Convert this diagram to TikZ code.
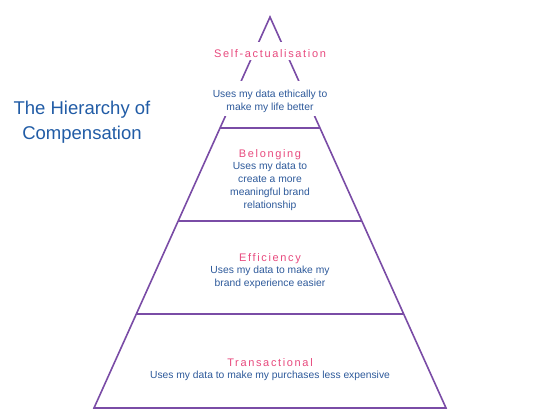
\documentclass[tikz,border=0pt]{standalone}
\usepackage{fontspec}
\setmainfont{Liberation Sans}
\newfontfamily\headfont[LetterSpace=15]{Liberation Sans}
\usetikzlibrary{calc}
\definecolor{pyrline}{RGB}{122,76,166}
\definecolor{headpink}{RGB}{232,74,126}
\definecolor{bodyblue}{RGB}{46,90,155}
\definecolor{titleblue}{RGB}{33,92,166}
\begin{document}
\begin{tikzpicture}[x=1pt,y=-1pt,
  edge/.style={draw=pyrline,line width=1.6pt,line join=miter},
  headtxt/.style={text=headpink,font=\headfont\fontsize{11}{13}\selectfont,inner sep=0pt},
  bodytxt/.style={text=bodyblue,font=\fontsize{10.3}{13}\selectfont,align=center,inner sep=0pt},
  cover/.style={fill=white,inner sep=0pt,minimum width=130pt}]
\useasboundingbox[fill=white] (0,0) rectangle (550,416);
\coordinate (apex) at (270,17);
\coordinate (bl) at (94,408);
\coordinate (br) at (446,408);
\coordinate (d1l) at ($(apex)!0.2839!(bl)$);
\coordinate (d1r) at ($(apex)!0.2839!(br)$);
\coordinate (d2l) at ($(apex)!0.5217!(bl)$);
\coordinate (d2r) at ($(apex)!0.5217!(br)$);
\coordinate (d3l) at ($(apex)!0.7596!(bl)$);
\coordinate (d3r) at ($(apex)!0.7596!(br)$);
\draw[edge] (apex) -- (bl) -- (br) -- cycle;
\draw[edge] (d1l) -- (d1r);
\draw[edge] (d2l) -- (d2r);
\draw[edge] (d3l) -- (d3r);
% top level
\node[cover,minimum height=18pt] (selfc) at (270,51) {};
\node[headtxt] (self) at (270,54) {Self-actualisation};
\node[cover,minimum height=35pt] (selfbc) at (270,98.5) {};
\node[bodytxt] (selfb) at (270,101.5) {Uses my data ethically to\\make my life better};
% belonging
\node[headtxt] (bel) at (270,154.5) {Belonging};
\node[bodytxt] (belb) at (270,186.5) {Uses my data to\\create a more\\meaningful brand\\relationship};
% efficiency
\node[headtxt] (eff) at (270,258.5) {Efficiency};
\node[bodytxt] (effb) at (270,277) {Uses my data to make my\\brand experience easier};
% transactional
\node[headtxt] (tra) at (270,362.5) {Transactional};
\node[bodytxt] (trab) at (270,375.5) {Uses my data to make my purchases less expensive};
% title
\node[anchor=base,align=center,text=titleblue,font=\fontsize{18.5}{25}\selectfont,inner sep=0pt] (title) at (82,139) {The Hierarchy of\\Compensation};
\end{tikzpicture}
\end{document}
